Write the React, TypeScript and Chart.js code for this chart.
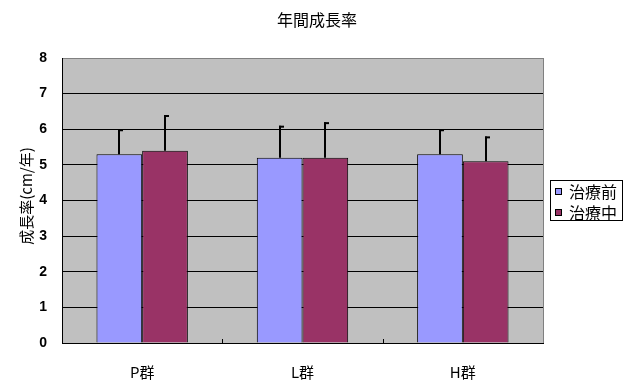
import React, { useEffect, useRef } from "react";
import { Chart, registerables } from "chart.js";

Chart.register(...registerables);

const categories = ["P群", "L群", "H群"];
const seriesNames = ["治療前", "治療中"];
const beforeValues = [5.3, 5.2, 5.3];
const duringValues = [5.4, 5.2, 5.1];
const beforeErrors = [0.7, 0.9, 0.7];
const duringErrors = [1.0, 1.0, 0.7];
const seriesColors = ["#9999FF", "#993366"];
const yTicks = [0, 1, 2, 3, 4, 5, 6, 7, 8];
const chartTitle = "年間成長率";
const yTitle = "成長率(cm/年)";

const CJK = "'Noto Sans CJK JP', 'Noto Sans', sans-serif";

const excelPlugin = {
  id: "excelLook",
  beforeDraw(chart: any) {
    const { ctx, chartArea } = chart;
    ctx.save();
    ctx.fillStyle = "#C0C0C0";
    ctx.fillRect(chartArea.left, chartArea.top, chartArea.right - chartArea.left, chartArea.bottom - chartArea.top);
    ctx.restore();
  },
  afterDatasetsDraw(chart: any) {
    const { ctx } = chart;
    const yScale = chart.scales.y;
    const errs = [beforeErrors, duringErrors];
    ctx.save();
    ctx.strokeStyle = "#000";
    ctx.lineWidth = 2;
    chart.data.datasets.forEach((ds: any, di: number) => {
      const meta = chart.getDatasetMeta(di);
      meta.data.forEach((el: any, i: number) => {
        const v = ds.data[i];
        const top = yScale.getPixelForValue(v + errs[di][i]);
        const x = Math.round(el.x);
        ctx.beginPath();
        ctx.moveTo(x, el.y);
        ctx.lineTo(x, top);
        ctx.stroke();
        ctx.beginPath();
        ctx.moveTo(x - 1, top + 1);
        ctx.lineTo(x + 4, top + 1);
        ctx.stroke();
      });
    });
    ctx.restore();
  },
  afterDraw(chart: any) {
    const { ctx, chartArea } = chart;
    const xScale = chart.scales.x;
    ctx.save();
    // title
    ctx.fillStyle = "#000";
    ctx.font = `16px ${CJK}`;
    ctx.textAlign = "center";
    ctx.textBaseline = "middle";
    ctx.fillText(chartTitle, 317, 20);
    // y title
    ctx.save();
    ctx.translate(26, 196);
    ctx.rotate(-Math.PI / 2);
    ctx.font = `15px ${CJK}`;
    ctx.fillText(yTitle, 0, 0);
    ctx.restore();
    // right border
    ctx.strokeStyle = "#808080";
    ctx.lineWidth = 1;
    ctx.beginPath();
    ctx.moveTo(Math.round(chartArea.right) + 0.5, chartArea.top);
    ctx.lineTo(Math.round(chartArea.right) + 0.5, chartArea.bottom);
    ctx.stroke();
    // category boundary ticks
    ctx.strokeStyle = "#000";
    for (let i = 1; i < categories.length; i++) {
      const bx = Math.round((xScale.getPixelForValue(i - 1) + xScale.getPixelForValue(i)) / 2) + 0.5;
      ctx.beginPath();
      ctx.moveTo(bx, chartArea.bottom - 4);
      ctx.lineTo(bx, chartArea.bottom);
      ctx.stroke();
    }
    // legend
    const lx = 550, ly = 180, lw = 72, lh = 40;
    ctx.fillStyle = "#fff";
    ctx.fillRect(lx, ly, lw, lh);
    ctx.strokeStyle = "#000";
    ctx.strokeRect(lx + 0.5, ly + 0.5, lw, lh);
    ctx.font = `16px ${CJK}`;
    ctx.textBaseline = "middle";
    ctx.textAlign = "left";
    seriesNames.forEach((name, i) => {
      const cy = ly + 10.5 + i * 21;
      ctx.fillStyle = seriesColors[i];
      ctx.fillRect(555, Math.round(cy - 3), 7, 7);
      ctx.strokeStyle = "#000";
      ctx.strokeRect(555.5, Math.round(cy - 3) + 0.5, 6, 6);
      ctx.fillStyle = "#000";
      ctx.fillText(name, 569, cy + 1);
    });
    ctx.restore();
  },
};

export default function App() {
  const ref = useRef<HTMLCanvasElement>(null);
  useEffect(() => {
    document.body.style.margin = "0";
    const chart = new Chart(ref.current as HTMLCanvasElement, {
      type: "bar",
      data: {
        labels: categories,
        datasets: [
          {
            label: seriesNames[0],
            data: beforeValues,
            backgroundColor: seriesColors[0],
            borderColor: "#000",
            borderWidth: 1,
            categoryPercentage: 0.57,
            barPercentage: 1,
          },
          {
            label: seriesNames[1],
            data: duringValues,
            backgroundColor: seriesColors[1],
            borderColor: "#000",
            borderWidth: 1,
            categoryPercentage: 0.57,
            barPercentage: 1,
          },
        ],
      },
      options: {
        animation: false,
        responsive: false,
        devicePixelRatio: 1,
        layout: { padding: { left: 0, right: 87, top: 58, bottom: 0 } },
        plugins: {
          legend: { display: false },
          tooltip: { enabled: false },
          title: { display: false },
        },
        scales: {
          x: {
            type: "category",
            grid: { display: false },
            border: { color: "#000", width: 1 },
            ticks: {
              color: "#000",
              padding: 12,
              font: { family: CJK, size: 15 },
            },
            afterFit(scale: any) {
              scale.height = 39;
            },
          },
          y: {
            min: 0,
            max: 8,
            afterBuildTicks(scale: any) {
              scale.ticks = yTicks.map((v) => ({ value: v }));
            },
            grid: {
              color: (c: any) => (c.tick && c.tick.value === 8 ? "#808080" : "#000"),
              drawTicks: false,
              lineWidth: 1,
            },
            border: { color: "#000", width: 1 },
            ticks: {
              color: "#000",
              padding: 15,
              font: { family: "'Liberation Sans', Arial, sans-serif", size: 14, weight: "bold" },
            },
            afterFit(scale: any) {
              scale.width = 62;
            },
          },
        },
      },
      plugins: [excelPlugin],
    } as any);
    return () => chart.destroy();
  }, []);
  return (
    <div style={{ width: 630, height: 382 }}>
      <canvas ref={ref} width={630} height={382} style={{ display: "block" }} />
    </div>
  );
}
